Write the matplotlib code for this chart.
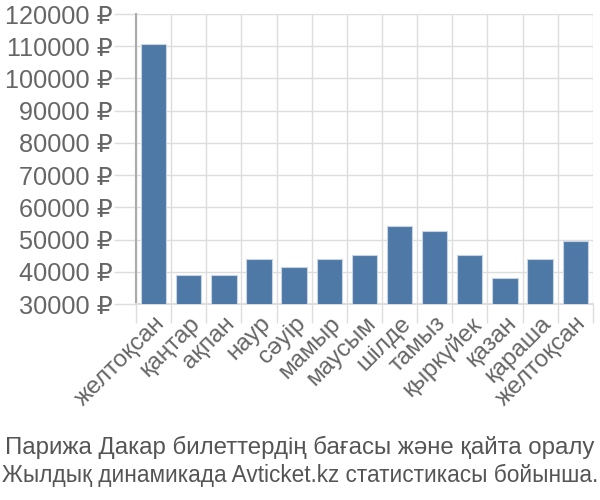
import matplotlib
matplotlib.use("Agg")
import matplotlib.pyplot as plt
import numpy as np

plt.rcParams['font.family'] = ['Liberation Sans', 'DejaVu Sans']

months = ["желтоқсан", "қаңтар", "ақпан", "наур", "сәуір", "мамыр", "маусым",
          "шілде", "тамыз", "қыркүйек", "қазан", "қараша", "желтоқсан"]
prices = [110600, 39000, 39000, 44000, 41500, 44000, 45100,
          54200, 52600, 45100, 38000, 44000, 49500]
yticks = [30000, 40000, 50000, 60000, 70000, 80000, 90000, 100000, 110000, 120000]
caption = ["Парижа Дакар билеттердің бағасы және қайта оралу",
           "Жылдық динамикада Avticket.kz статистикасы бойынша."]

fig = plt.figure(figsize=(6, 5), dpi=100)
ax = fig.add_axes([0.2267, 0.392, 0.7613, 0.580])

x = np.arange(len(months))
ax.bar(x, prices, width=0.72, bottom=0, color="#4e79a7", edgecolor="#c8d4e3",
       linewidth=0.8, zorder=3)
ax.set_ylim(30000, 120000)
ax.set_xlim(-0.5, len(months) - 0.5)

ax.set_yticks(yticks)
ax.set_yticklabels([f"{v} ₽" for v in yticks], fontsize=18.2, color="#666666")
ax.tick_params(axis='y', length=16, color="#dddddd", width=1, pad=0.5)

ax.set_xticks(x)
ax.set_xticklabels(months, rotation=45, ha='right', rotation_mode='anchor',
                   fontsize=17.5, color="#666666")
ax.tick_params(axis='x', length=0, pad=6)
# boundary ticks / gridlines
ax.set_xticks(np.arange(-0.5, len(months)), minor=True)
ax.tick_params(axis='x', which='minor', length=14, color="#dddddd", width=1)
ax.grid(True, which='minor', axis='x', color="#dddddd", linewidth=1, zorder=0)
ax.grid(True, which='major', axis='y', color="#dddddd", linewidth=1, zorder=0)

for s in ['top', 'right']:
    ax.spines[s].set_visible(False)
ax.spines['left'].set_color("#aaaaaa")
ax.spines['left'].set_linewidth(1.5)
ax.spines['bottom'].set_color("#dddddd")
ax.spines['bottom'].set_linewidth(1.5)

fig.text(0.5, 0.106, caption[0], ha='center', va='center', fontsize=17.3, color="#555555")
fig.text(0.5, 0.050, caption[1], ha='center', va='center', fontsize=16.3, color="#555555")

fig.savefig("out.png", dpi=100)
